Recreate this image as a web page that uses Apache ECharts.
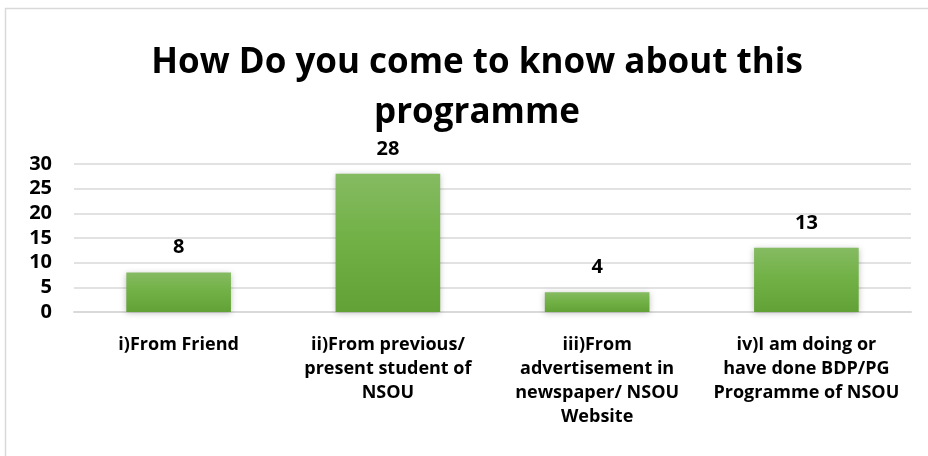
<!DOCTYPE html>
<html>
<head>
<meta charset="utf-8">
<script src="https://cdn.jsdelivr.net/npm/echarts@6/dist/echarts.min.js"></script>
<style>
  html, body { margin: 0; padding: 0; background: #ffffff; }
  #chart { width: 928px; height: 456px; }
</style>
</head>
<body>
<div id="chart"></div>
<script>
// Survey responses: how respondents learned about the programme
const titleText = 'How Do you come to know about this\nprogramme';
const categories = [
  'i)From Friend',
  'ii)From previous/\npresent student of\nNSOU',
  'iii)From\nadvertisement in\nnewspaper/ NSOU\nWebsite',
  'iv)I am doing or\nhave done BDP/PG\nProgramme of NSOU'
];
const counts = [8, 28, 4, 13];
const yTicks = [0, 5, 10, 15, 20, 25, 30];

const FONT = '"Open Sans", Lato, sans-serif';
const chart = echarts.init(document.getElementById('chart'), null, { renderer: 'canvas' });

chart.setOption({
  animation: false,
  backgroundColor: '#ffffff',
  graphic: [{
    type: 'rect',
    shape: { x: 5.5, y: 8.5, width: 940, height: 470 },
    style: { fill: 'none', stroke: '#d9d9d9', lineWidth: 1.5 },
    silent: true
  }],
  title: {
    text: titleText,
    left: 472,
    textAlign: 'center',
    top: 33,
    textStyle: {
      fontFamily: FONT,
      fontSize: 35,
      fontWeight: 'bold',
      color: '#000000',
      lineHeight: 50
    }
  },
  grid: { left: 74, right: 17, top: 164, bottom: 144, containLabel: false },
  xAxis: {
    type: 'category',
    data: categories,
    axisLine: { show: true, lineStyle: { color: '#d9d9d9', width: 2 } },
    axisTick: { show: false },
    axisLabel: {
      interval: 0,
      margin: 21,
      fontFamily: FONT,
      fontSize: 18,
      fontWeight: 'bold',
      color: '#000000',
      lineHeight: 24,
      align: 'center'
    }
  },
  yAxis: {
    type: 'value',
    min: yTicks[0],
    max: yTicks[yTicks.length - 1],
    interval: yTicks[1] - yTicks[0],
    axisLine: { show: false },
    axisTick: { show: false },
    splitLine: { lineStyle: { color: '#d9d9d9', width: 1.5 } },
    axisLabel: {
      margin: 22,
      fontFamily: FONT,
      fontSize: 20,
      fontWeight: 'bold',
      color: '#000000'
    }
  },
  series: [{
    type: 'bar',
    data: counts,
    barWidth: '50%',
    itemStyle: {
      color: new echarts.graphic.LinearGradient(0, 0, 0, 1, [
        { offset: 0, color: '#85bb62' },
        { offset: 0.5, color: '#70b044' },
        { offset: 1, color: '#62a136' }
      ]),
      shadowColor: 'rgba(0,0,0,0.25)',
      shadowBlur: 6,
      shadowOffsetX: 0,
      shadowOffsetY: 1
    },
    label: {
      show: true,
      position: 'top',
      distance: 15,
      fontFamily: FONT,
      fontSize: 20,
      fontWeight: 'bold',
      color: '#000000'
    }
  }]
});
</script>
</body>
</html>
